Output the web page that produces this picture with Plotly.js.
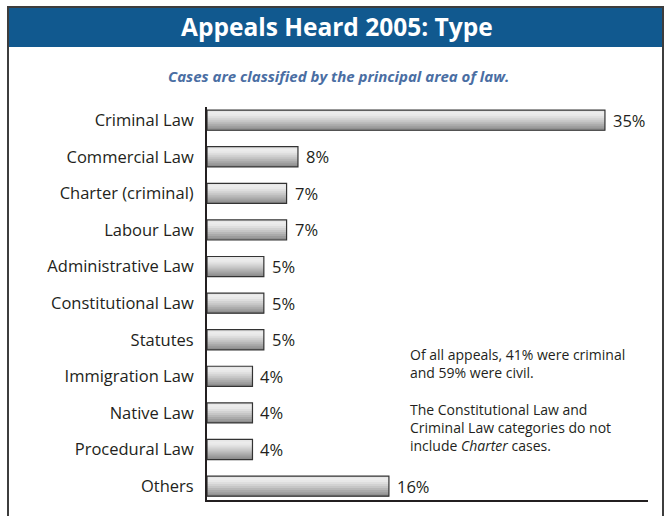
<!DOCTYPE html>
<html>
<head>
<meta charset="utf-8">
<script src="https://cdn.plot.ly/plotly-3.0.1.min.js"></script>
<style>
html,body{margin:0;padding:0;background:#fff;}
#chart{width:666px;height:516px;}
</style>
</head>
<body>
<div id="chart"></div>
<script>
// ---- data ----
const categories = ["Criminal Law","Commercial Law","Charter (criminal)","Labour Law","Administrative Law","Constitutional Law","Statutes","Immigration Law","Native Law","Procedural Law","Others"];
const shares = [35, 8, 7, 7, 5, 5, 5, 4, 4, 4, 16];
const valueLabels = shares.map(v => v + "%");
const titleText = "Appeals Heard 2005: Type";
const subtitleText = "Cases are classified by the principal area of law.";
const noteText = "Of all appeals, 41% were criminal<br>and 59% were civil.<br><br>The Constitutional Law and<br>Criminal Law categories do not<br>include <i>Charter</i> cases.";

// ---- styles ----
const W = 666, H = 516;
const M = {l: 207, r: 18, t: 107, b: 16};
const PW = W - M.l - M.r, PH = H - M.t - M.b;
const px2x = px => (px - M.l) / PW;
const px2y = py => (H - M.b - py) / PH;
const ink = "#231f20";
const font = "Open Sans, Noto Sans, sans-serif";
const gradColors = ["#e6e6e6","#ececec","#e8e8e8","#dedede","#d2d2d2","#c6c6c6","#b8b8b8","#aaaaaa","#9c9c9c","#8e8e8e"];
const barH = 0.55;
const step = barH / gradColors.length;

const traces = [];
gradColors.forEach((c, i) => {
  traces.push({
    type: "bar", orientation: "h",
    x: shares, y: categories,
    width: barH - i * step,
    offset: -barH / 2 + i * step,
    marker: {color: c, line: {width: 0}},
    hoverinfo: "skip", showlegend: false
  });
});
traces.push({
  type: "bar", orientation: "h",
  x: shares, y: categories,
  width: barH, offset: -barH / 2,
  marker: {color: "rgba(0,0,0,0)", line: {color: "#333333", width: 1.2}},
  hoverinfo: "skip", showlegend: false
});

const annotations = shares.map((v, i) => ({
  x: v, y: categories[i], xref: "x", yref: "y",
  text: valueLabels[i], showarrow: false,
  xanchor: "left", yanchor: "middle", xshift: 6,
  font: {family: font, size: 16.5, color: ink}
}));
annotations.push({
  xref: "paper", yref: "paper", x: px2x(337), y: px2y(27),
  text: "<b>" + titleText + "</b>", showarrow: false,
  xanchor: "center", yanchor: "middle",
  font: {family: font, size: 24.5, color: "#ffffff"}
});
annotations.push({
  xref: "paper", yref: "paper", x: px2x(338), y: px2y(76),
  text: "<b><i>" + subtitleText + "</i></b>", showarrow: false,
  xanchor: "center", yanchor: "middle",
  font: {family: font, size: 15, color: "#4a6ea3"}
});
annotations.push({
  xref: "paper", yref: "paper", x: px2x(408), y: px2y(343),
  text: noteText, showarrow: false, align: "left",
  xanchor: "left", yanchor: "top",
  font: {family: font, size: 14, color: ink}
});

const layout = {
  width: W, height: H,
  margin: M,
  paper_bgcolor: "#ffffff", plot_bgcolor: "#ffffff",
  barmode: "overlay",
  showlegend: false,
  xaxis: {range: [0, PW / 11.37], showgrid: false, zeroline: false, showticklabels: false,
          showline: true, linecolor: ink, linewidth: 2, ticks: "", fixedrange: true},
  yaxis: {type: "category", categoryorder: "array", categoryarray: categories,
          range: [10.38, -0.36], showgrid: false, zeroline: false,
          showline: true, linecolor: ink, linewidth: 2, ticks: "",
          ticklabelstandoff: 8,
          tickfont: {family: font, size: 16.5, color: ink}, fixedrange: true},
  shapes: [
    {type: "rect", xref: "paper", yref: "paper", layer: "below",
     x0: px2x(8), x1: px2x(663), y0: px2y(7), y1: px2y(47),
     fillcolor: "#11598f", line: {width: 0}},
    {type: "rect", xref: "paper", yref: "paper", layer: "above",
     x0: px2x(8), x1: px2x(663), y0: px2y(7), y1: px2y(530),
     fillcolor: "rgba(0,0,0,0)", line: {color: "#3d3d3d", width: 2}}
  ],
  annotations: annotations
};

Plotly.newPlot("chart", traces, layout, {displayModeBar: false, staticPlot: true});
</script>
</body>
</html>
